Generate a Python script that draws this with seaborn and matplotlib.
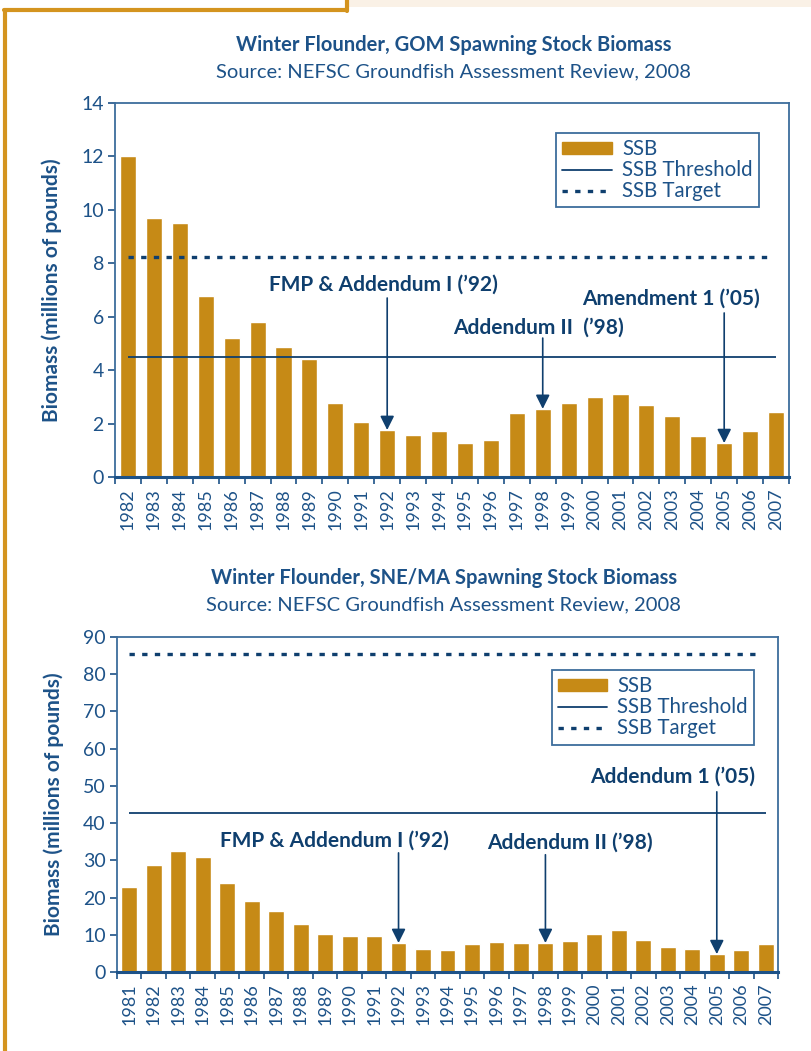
import matplotlib.pyplot as plt
import matplotlib.patches as mpatches
from matplotlib.lines import Line2D
import numpy as np
import seaborn as sns

sns.set_theme(style="white")
plt.rcParams['font.family'] = ['Lato', 'DejaVu Sans']

# --- data ---
gom_years = [str(y) for y in range(1982, 2008)]
gom_ssb = [12.0, 9.7, 9.5, 6.78, 5.2, 5.8, 4.87, 4.42, 2.77, 2.06, 1.76, 1.57, 1.72,
           1.27, 1.38, 2.40, 2.55, 2.77, 3.0, 3.11, 2.70, 2.28, 1.53, 1.27, 1.72, 2.43]
gom_threshold = 4.5
gom_target = 8.24

sne_years = [str(y) for y in range(1981, 2008)]
sne_ssb = [22.8, 28.8, 32.5, 30.9, 23.9, 19.1, 16.4, 12.9, 10.2, 9.7, 9.7, 7.8, 6.2, 5.9,
           7.5, 8.0, 7.8, 7.8, 8.3, 10.2, 11.3, 8.6, 6.7, 6.2, 4.8, 5.9, 7.5]
sne_threshold = 42.7
sne_target = 85.5

bar_col = "#C68A16"
navy = "#0F3F6E"
tick_col = "#1D5288"
spine_col = "#3D6D9C"
orange = "#D4941F"

fig = plt.figure(figsize=(8.12, 10.51), dpi=100)

# page frame
fig.add_artist(mpatches.Rectangle((349 / 812, 1 - 7 / 1051), 463 / 812, 7 / 1051,
                                  transform=fig.transFigure, color="#FAF1E6", lw=0))
fig.add_artist(Line2D([5 / 812, 5 / 812], [0, 1 - 10 / 1051], transform=fig.transFigure,
                      color=orange, lw=3))
fig.add_artist(Line2D([4 / 812, 347 / 812], [1 - 10 / 1051, 1 - 10 / 1051],
                      transform=fig.transFigure, color=orange, lw=3))
fig.add_artist(Line2D([347 / 812, 347 / 812], [1, 1 - 11 / 1051], transform=fig.transFigure,
                      color=orange, lw=3))


def draw_panel(ax, years, ssb, thr, tgt, ymax, ystep, width, notes, leg_anchor):
    sns.barplot(x=years, y=ssb, color=bar_col, saturation=1, width=width, ax=ax)
    n = len(years)
    ax.set_xlim(-0.5, n - 0.5)
    ax.set_ylim(0, ymax)
    ax.hlines(thr, 0, n - 1, color=navy, lw=1.3)
    ax.hlines(tgt, 0, n - 1.3, color=navy, lw=2.4, linestyles=[(0, (1.6, 2.2))])

    ax.set_yticks(np.arange(0, ymax + 1, ystep))
    ax.tick_params(axis='y', colors=tick_col, labelsize=14, length=5, width=1.2,
                   direction='out', left=True, pad=3)
    ax.set_xticks(range(n))
    ax.set_xticklabels(years, rotation=90)
    ax.set_xticks(np.arange(-0.5, n, 1), minor=True)
    ax.tick_params(axis='x', which='major', length=0, colors=tick_col, labelsize=13, pad=8)
    ax.tick_params(axis='x', which='minor', length=5, width=1.2, color=tick_col,
                   bottom=True)
    for s in ax.spines.values():
        s.set_color(spine_col)
        s.set_linewidth(1.3)
    ax.spines['bottom'].set_linewidth(2.2)
    ax.spines['bottom'].set_color(tick_col)
    ax.set_xlabel("")
    ax.set_ylabel("Biomass (millions of pounds)", fontsize=15, fontweight='bold',
                  color=tick_col, labelpad=14)

    for label, idx, tx, ty, ystart in notes:
        ax.text(tx, ty, label, ha='center', va='center', fontsize=15,
                fontweight='bold', color=navy)
        ax.annotate('', xy=(idx, ssb[idx]), xytext=(idx, ystart),
                    arrowprops=dict(arrowstyle='-|>,head_width=0.35,head_length=0.7',
                                    color=navy, lw=1.2, shrinkA=0, shrinkB=0))

    handles = [mpatches.Patch(color=bar_col, label='SSB'),
               Line2D([], [], color=navy, lw=1.3, label='SSB Threshold'),
               Line2D([], [], color=navy, lw=2.4, linestyle=(0, (1.6, 2.2)),
                      label='SSB Target')]
    leg = ax.legend(handles=handles, loc='upper right', bbox_to_anchor=leg_anchor,
                    fancybox=False, framealpha=1, edgecolor=spine_col, fontsize=14.8,
                    handlelength=2.4, handleheight=0.5, handletextpad=0.5,
                    labelspacing=0.05, borderpad=0.3, borderaxespad=0)
    leg.get_frame().set_linewidth(1.3)
    for t in leg.get_texts():
        t.set_color(tick_col)


# top panel: GOM
ax1 = fig.add_axes([115 / 812, 1 - 477 / 1051, 674 / 812, 374 / 1051])
gom_notes = [("FMP & Addendum I (\u201992)", 10, 9.85, 7.2, 6.7),
             ("Addendum II  (\u201998)", 16, 15.85, 5.58, 5.2),
             ("Amendment 1 (\u201905)", 23, 20.96, 6.67, 6.14)]
draw_panel(ax1, gom_years, gom_ssb, gom_threshold, gom_target, 14, 2, 0.62,
           gom_notes, (0.955, 0.92))
fig.text(454 / 812, 1 - 45 / 1051, "Winter Flounder, GOM Spawning Stock Biomass",
         ha='center', va='center', fontsize=14.5, fontweight='bold', color=tick_col)
fig.text(454 / 812, 1 - 72 / 1051, "Source: NEFSC Groundfish Assessment Review, 2008",
         ha='center', va='center', fontsize=14.5, color=tick_col)

# bottom panel: SNE/MA
ax2 = fig.add_axes([117 / 812, 1 - 972 / 1051, 661 / 812, 335 / 1051])
sne_notes = [("FMP & Addendum I (\u201992)", 11, 8.37, 35.2, 32.0),
             ("Addendum II (\u201998)", 17, 18.0, 34.7, 31.5),
             ("Addendum 1 (\u201905)", 24, 22.2, 52.4, 48.4)]
draw_panel(ax2, sne_years, sne_ssb, sne_threshold, sne_target, 90, 10, 0.65,
           sne_notes, (0.964, 0.901))
fig.text(444 / 812, 1 - 578 / 1051, "Winter Flounder, SNE/MA Spawning Stock Biomass",
         ha='center', va='center', fontsize=14.5, fontweight='bold', color=tick_col)
fig.text(444 / 812, 1 - 605 / 1051, "Source: NEFSC Groundfish Assessment Review, 2008",
         ha='center', va='center', fontsize=14.5, color=tick_col)

fig.savefig("out.png", dpi=100)
